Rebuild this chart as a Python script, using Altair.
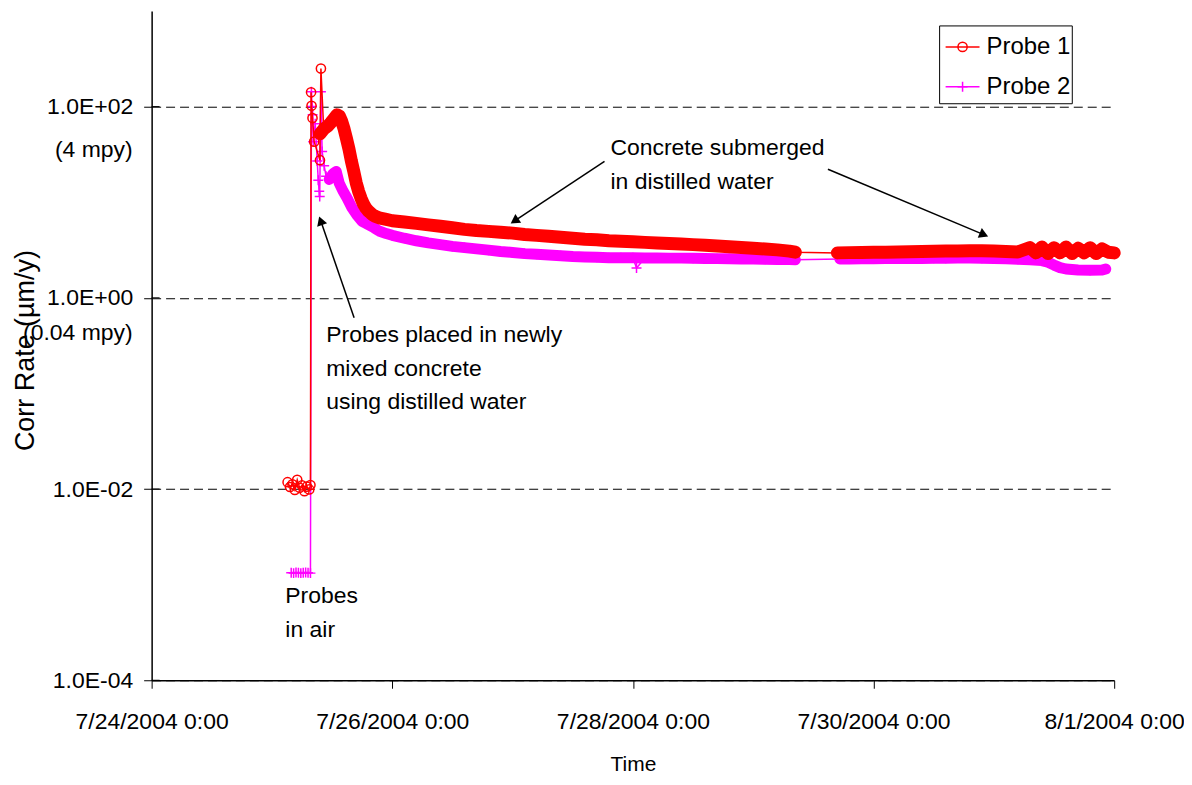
import altair as alt
import pandas as pd

START = pd.Timestamp("2004-07-24 00:00:00")

# ---------------- data (days since 7/24/2004 0:00, corrosion rate in um/y) ----------------
# Probe 1 (red, open circles)
P1_AIR_DAYS = [1.13, 1.15, 1.17, 1.19, 1.21, 1.23, 1.25, 1.27, 1.29, 1.31, 1.32]
P1_AIR_RATE = [0.0118, 0.0105, 0.0112, 0.0098, 0.0125, 0.0103, 0.0109, 0.0095, 0.0106, 0.0099, 0.0110]
P1_SPIKE_DAYS = [1.325, 1.329, 1.337, 1.351, 1.399, 1.407]
P1_SPIKE_RATE = [141, 102, 76, 43, 27.5, 250]
P1_BAND1_DAYS = [1.40, 1.43, 1.46, 1.49, 1.52, 1.54, 1.56, 1.58, 1.60, 1.62,
                 1.64, 1.66, 1.68, 1.70, 1.72, 1.74, 1.76, 1.78, 1.80, 1.83,
                 1.86, 1.90, 1.95, 2.0, 2.1, 2.2, 2.3, 2.4, 2.5, 2.6,
                 2.7, 2.8, 2.9, 3.0, 3.1, 3.2, 3.3, 3.4, 3.5, 3.6,
                 3.7, 3.8, 3.9, 4.0, 4.1, 4.2, 4.3, 4.4, 4.5, 4.6,
                 4.7, 4.8, 4.9, 5.0, 5.1, 5.2, 5.3, 5.35]
P1_BAND1_RATE = [52, 58, 62, 68, 76, 82, 80, 70, 58, 46,
                 36, 27, 21, 16, 13, 11, 9.6, 8.7, 8.1, 7.5,
                 7.1, 6.8, 6.6, 6.4, 6.2, 6.0, 5.8, 5.6, 5.4, 5.2,
                 5.05, 4.95, 4.85, 4.75, 4.6, 4.5, 4.4, 4.3, 4.2, 4.1,
                 4.05, 3.95, 3.9, 3.85, 3.8, 3.75, 3.7, 3.65, 3.6, 3.55,
                 3.48, 3.42, 3.36, 3.3, 3.24, 3.17, 3.08, 3.0]
P1_BAND2_DAYS = [5.70, 5.8, 5.9, 6.0, 6.1, 6.2, 6.3, 6.4, 6.5, 6.6,
                 6.7, 6.8, 6.9, 7.0, 7.1, 7.2, 7.3, 7.35, 7.4, 7.45,
                 7.5, 7.55, 7.6, 7.65, 7.7, 7.75, 7.8, 7.85, 7.9, 7.95, 8.0]
P1_BAND2_RATE = [2.95, 2.97, 2.98, 2.99, 3.0, 3.02, 3.03, 3.05, 3.07, 3.08,
                 3.09, 3.1, 3.1, 3.08, 3.05, 3.02, 3.35, 2.95, 3.4, 2.9,
                 3.35, 2.95, 3.4, 2.9, 3.3, 2.95, 3.35, 2.9, 3.25, 3.0, 2.95]

# Probe 2 (magenta, plus markers)
P2_AIR_DAYS = [1.16, 1.18, 1.20, 1.22, 1.24, 1.26, 1.28, 1.30, 1.32]
P2_AIR_RATE = [0.00133, 0.00132, 0.00134, 0.00133, 0.00132, 0.00133, 0.00134, 0.00133, 0.00132]
P2_SPIKE_DAYS = [1.328, 1.333, 1.338, 1.343, 1.36, 1.376, 1.385, 1.393, 1.397, 1.407, 1.417, 1.434, 1.45, 4.03]
P2_SPIKE_RATE = [143, 100, 82, 43, 66, 27, 17, 13, 11.5, 143, 34, 24, 18.7, 2.05]
P2_BAND1_DAYS = [1.476, 1.51, 1.534, 1.559, 1.592, 1.625, 1.666, 1.708, 1.749, 1.782,
                 1.849, 1.89, 1.95, 2.0, 2.1, 2.2, 2.3, 2.4, 2.5, 2.6,
                 2.7, 2.8, 2.9, 3.0, 3.1, 3.2, 3.3, 3.4, 3.5, 3.6,
                 3.7, 3.8, 3.9, 4.0, 4.1, 4.2, 4.3, 4.4, 4.5, 4.6,
                 4.7, 4.8, 4.9, 5.0, 5.1, 5.2, 5.3, 5.35]
P2_BAND1_RATE = [17.3, 20, 21, 15.8, 13, 11, 8.7, 7.3, 6.3, 6.0,
                 5.4, 5.0, 4.7, 4.5, 4.2, 3.95, 3.75, 3.6, 3.45, 3.35,
                 3.25, 3.15, 3.05, 2.98, 2.9, 2.85, 2.8, 2.75, 2.7, 2.67,
                 2.65, 2.63, 2.62, 2.62, 2.61, 2.61, 2.6, 2.6, 2.59, 2.58,
                 2.57, 2.56, 2.55, 2.54, 2.53, 2.52, 2.51, 2.5]
P2_BAND2_DAYS = [5.72, 5.8, 5.9, 6.0, 6.1, 6.2, 6.3, 6.4, 6.5, 6.6,
                 6.7, 6.8, 6.9, 7.0, 7.1, 7.2, 7.3, 7.4, 7.45, 7.5,
                 7.55, 7.6, 7.7, 7.8, 7.9, 7.93]
P2_BAND2_RATE = [2.55, 2.55, 2.56, 2.56, 2.57, 2.57, 2.58, 2.58, 2.59, 2.59,
                 2.6, 2.6, 2.59, 2.58, 2.56, 2.53, 2.5, 2.45, 2.35, 2.2,
                 2.07, 2.0, 1.95, 1.94, 1.95, 2.0]

SERIES_NAMES = ["Probe 1", "Probe 2"]
SERIES_COLORS = ["#FF0000", "#FF00FF"]

# axis ticks
X_TICKS = [(2004, 7, 24), (2004, 7, 26), (2004, 7, 28), (2004, 7, 30), (2004, 8, 1)]
Y_TICK_VALUES = [0.0001, 0.01, 1, 100]
Y_TICK_LABELS = ["1.0E-04", "1.0E-02", "1.0E+00", "1.0E+02"]
MPY_VALUES = [100, 1]
MPY_LABELS = ["(4 mpy)", "(0.04 mpy)"]

# annotations (anchored in data coordinates)
NOTE_TEXT = [["Concrete submerged", "in distilled water"],
             ["Probes placed in newly", "mixed concrete", "using distilled water"],
             ["Probes", "in air"]]
NOTE_DAYS = [3.813, 1.451, 1.111]
NOTE_RATE = [47.5, 0.536, 0.001]
ARROW_FROM_DAYS = [3.764, 5.621, 1.683]
ARROW_FROM_RATE = [26.7, 22.1, 0.619]
ARROW_TO_DAYS = [3.026, 6.906, 1.409]
ARROW_TO_RATE = [6.49, 4.64, 6.19]
ARROW_ANGLE = [236.5, 112.8, 341]

FONT = "Liberation Sans, Arial, Helvetica"
FS = 23


def stamp(days):
    return [(START + pd.to_timedelta(d, unit="D")).strftime("%Y-%m-%dT%H:%M:%S") for d in days]


def frame(parts):
    rows = []
    for seg, days, rates in parts:
        for t, v in zip(stamp(days), rates):
            rows.append({"seg": seg, "t": t, "v": v})
    return pd.DataFrame(rows).sort_values("t").reset_index(drop=True)


p1 = frame([("air", P1_AIR_DAYS, P1_AIR_RATE), ("spike", P1_SPIKE_DAYS, P1_SPIKE_RATE),
            ("band1", P1_BAND1_DAYS, P1_BAND1_RATE), ("band2", P1_BAND2_DAYS, P1_BAND2_RATE)])
p2 = frame([("air", P2_AIR_DAYS, P2_AIR_RATE), ("spike", P2_SPIKE_DAYS, P2_SPIKE_RATE),
            ("band1", P2_BAND1_DAYS, P2_BAND1_RATE), ("band2", P2_BAND2_DAYS, P2_BAND2_RATE)])

# ---------------- encodings ----------------
label_expr = "''"
for val, lab in zip(Y_TICK_VALUES, Y_TICK_LABELS):
    label_expr = f"abs(datum.value - {val}) <= {val * 0.001} ? '{lab}' : ({label_expr})"

X = alt.X(
    "t:T",
    title="Time",
    scale=alt.Scale(domain=[alt.DateTime(year=2004, month=7, date=24),
                            alt.DateTime(year=2004, month=8, date=1)], nice=False),
    axis=alt.Axis(
        values=[alt.DateTime(year=y, month=m, date=d) for (y, m, d) in X_TICKS],
        format="%-m/%-d/%Y %-H:%M", grid=False, tickSize=8, tickColor="#000000",
        domainColor="#000000", domainWidth=1.5, labelFont=FONT, labelFontSize=FS,
        labelColor="#000000", labelPadding=22, labelFlush=False, labelOverlap=False,
        labelLimit=0,
        titleFont=FONT, titleFontSize=21, titleFontWeight="normal", titleColor="#000000",
        titleY=90, titleBaseline="alphabetic",
    ),
)
Y = alt.Y(
    "v:Q",
    title="Corr Rate (µm/y)",
    scale=alt.Scale(type="log", domain=[0.0001, 1000], nice=False),
    axis=alt.Axis(
        values=Y_TICK_VALUES, labelExpr=label_expr, grid=True, gridDash=[9, 5],
        gridColor="#000000", gridWidth=1, tickSize=8, tickColor="#000000",
        domainColor="#000000", domainWidth=1.5, labelFont=FONT, labelFontSize=FS,
        labelColor="#000000", labelPadding=11, labelLimit=0,
        titleFont=FONT, titleFontSize=27, titleFontWeight="normal", titleColor="#000000",
        titleX=-126, titleY=340, titleAngle=270, titleAlign="center", titleBaseline="middle",
    ),
)

PLUS = "M-1,0L1,0M0,-1L0,1"


def series(df, color, thick, shape, size):
    band = alt.Chart(df).transform_filter("indexof(datum.seg, 'band') == 0").mark_line(
        color=color, strokeWidth=thick, strokeCap="round", strokeJoin="round"
    ).encode(x=X, y=Y, detail="seg:N")
    line = alt.Chart(df).mark_line(color=color, strokeWidth=1.5).encode(x=X, y=Y)
    pts = alt.Chart(df).mark_point(
        shape=shape, size=size, filled=False, color=color, strokeWidth=1.5, opacity=1
    ).encode(x=X, y=Y)
    return [band, line, pts]


layers = []
layers += series(p2, SERIES_COLORS[1], 11, PLUS, 100)
layers += series(p1, SERIES_COLORS[0], 13, "circle", 85)

# inner half of the cross-style y ticks
layers.append(alt.Chart(pd.DataFrame({"v": Y_TICK_VALUES})).mark_rule(color="#000000", strokeWidth=1)
              .encode(y=Y, x=alt.value(0), x2=alt.value(8)))

# mpy secondary labels
for val, lab, dy in zip(MPY_VALUES, MPY_LABELS, [44, 35]):
    layers.append(alt.Chart(pd.DataFrame({"v": [val]})).mark_text(
        text=lab, align="right", baseline="middle", dy=dy, font=FONT, fontSize=FS, color="#000000"
    ).encode(y=Y, x=alt.value(-19)))

# arrows
arr = pd.DataFrame({"t": stamp(ARROW_FROM_DAYS), "v": ARROW_FROM_RATE,
                    "t2": stamp(ARROW_TO_DAYS), "v2": ARROW_TO_RATE})
layers.append(alt.Chart(arr).mark_rule(color="#000000", strokeWidth=1.5)
              .encode(x=X, y=Y, x2="t2:T", y2="v2:Q"))
heads = pd.DataFrame({"t": stamp(ARROW_TO_DAYS), "v": ARROW_TO_RATE, "a": ARROW_ANGLE})
layers.append(alt.Chart(heads).mark_point(shape="triangle", filled=True, color="#000000",
                                          size=110, opacity=1)
              .encode(x=X, y=Y, angle=alt.Angle("a:Q", scale=None)))

# annotation texts
for lines, d, r in zip(NOTE_TEXT, NOTE_DAYS, NOTE_RATE):
    layers.append(alt.Chart(pd.DataFrame({"t": stamp([d]), "v": [r]})).mark_text(
        text=lines, align="left", baseline="top", font=FONT, fontSize=FS,
        lineHeight=34, color="#000000"
    ).encode(x=X, y=Y))

# legend (manual, Excel-style box)
one = pd.DataFrame({"k": [0]})
layers.append(alt.Chart(one).mark_rect(fill="#FFFFFF", stroke="#000000", strokeWidth=1)
              .encode(x=alt.value(790), x2=alt.value(923), y=alt.value(15), y2=alt.value(93)))
for i, (name, color, shape, size) in enumerate(zip(SERIES_NAMES, SERIES_COLORS, ["circle", PLUS], [85, 100])):
    yy = 36 + 40 * i
    layers.append(alt.Chart(one).mark_rule(color=color, strokeWidth=1.5)
                  .encode(x=alt.value(796), x2=alt.value(830), y=alt.value(yy)))
    layers.append(alt.Chart(one).mark_point(shape=shape, size=size, filled=False, color=color,
                                            strokeWidth=1.5, opacity=1)
                  .encode(x=alt.value(813), y=alt.value(yy)))
    layers.append(alt.Chart(one).mark_text(text=name, align="left", baseline="middle",
                                           font=FONT, fontSize=24, color="#000000")
                  .encode(x=alt.value(837), y=alt.value(yy)))

chart = alt.layer(*layers).properties(
    width=965, height=671,
    padding={"left": 144, "top": 2, "right": 70, "bottom": 96},
    autosize=alt.AutoSizeParams(type="none"),
).configure_view(stroke=None)

chart.save("out.html", embed_options={"renderer": "svg", "actions": False})
